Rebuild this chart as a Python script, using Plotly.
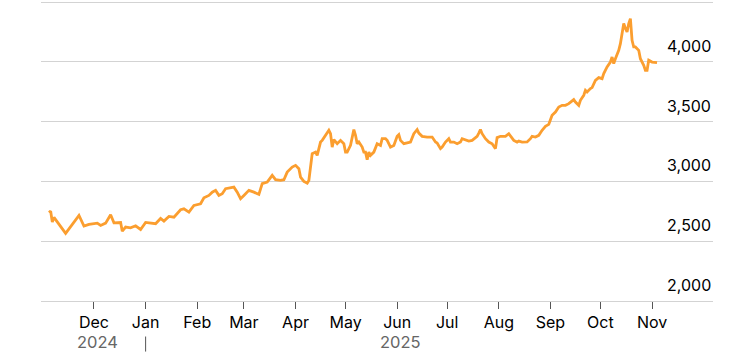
import plotly.graph_objects as go

dates = [
    "2024-11-04", "2024-11-05", "2024-11-06", "2024-11-07", "2024-11-14", "2024-11-22",
    "2024-11-25", "2024-11-28", "2024-12-03", "2024-12-05", "2024-12-08", "2024-12-11",
    "2024-12-13", "2024-12-17", "2024-12-18", "2024-12-20", "2024-12-23", "2024-12-26",
    "2024-12-29", "2025-01-01", "2025-01-07", "2025-01-10", "2025-01-12", "2025-01-15",
    "2025-01-18", "2025-01-22", "2025-01-24", "2025-01-27", "2025-01-30", "2025-02-03",
    "2025-02-05", "2025-02-08", "2025-02-10", "2025-02-12", "2025-02-14", "2025-02-16",
    "2025-02-18", "2025-02-21", "2025-02-23", "2025-02-25", "2025-02-27", "2025-03-01",
    "2025-03-04", "2025-03-07", "2025-03-10", "2025-03-12", "2025-03-15", "2025-03-18",
    "2025-03-20", "2025-03-23", "2025-03-25", "2025-03-27", "2025-03-30", "2025-04-01",
    "2025-04-03", "2025-04-04", "2025-04-06", "2025-04-08", "2025-04-09", "2025-04-11",
    "2025-04-13", "2025-04-14", "2025-04-16", "2025-04-17", "2025-04-19", "2025-04-21",
    "2025-04-22", "2025-04-23", "2025-04-24", "2025-04-26", "2025-04-28", "2025-04-30",
    "2025-05-01", "2025-05-02", "2025-05-04", "2025-05-06", "2025-05-07", "2025-05-08",
    "2025-05-09", "2025-05-11", "2025-05-12", "2025-05-13", "2025-05-14", "2025-05-15",
    "2025-05-16", "2025-05-18", "2025-05-20", "2025-05-22", "2025-05-23", "2025-05-25",
    "2025-05-26", "2025-05-28", "2025-05-30", "2025-06-01", "2025-06-02", "2025-06-03",
    "2025-06-05", "2025-06-07", "2025-06-09", "2025-06-11", "2025-06-13", "2025-06-14",
    "2025-06-16", "2025-06-19", "2025-06-22", "2025-06-24", "2025-06-25", "2025-06-27",
    "2025-06-28", "2025-06-30", "2025-07-02", "2025-07-03", "2025-07-05", "2025-07-07",
    "2025-07-09", "2025-07-10", "2025-07-12", "2025-07-14", "2025-07-16", "2025-07-19",
    "2025-07-20", "2025-07-21", "2025-07-22", "2025-07-24", "2025-07-26", "2025-07-28",
    "2025-07-30", "2025-07-31", "2025-08-02", "2025-08-05", "2025-08-07", "2025-08-08",
    "2025-08-10", "2025-08-12", "2025-08-13", "2025-08-15", "2025-08-18", "2025-08-20",
    "2025-08-21", "2025-08-23", "2025-08-25", "2025-08-27", "2025-08-29", "2025-08-31",
    "2025-09-01", "2025-09-02", "2025-09-04", "2025-09-06", "2025-09-08", "2025-09-10",
    "2025-09-12", "2025-09-14", "2025-09-15", "2025-09-16", "2025-09-18", "2025-09-19",
    "2025-09-21", "2025-09-22", "2025-09-23", "2025-09-25", "2025-09-26", "2025-09-28",
    "2025-09-30", "2025-10-02", "2025-10-03", "2025-10-05", "2025-10-07", "2025-10-08",
    "2025-10-09", "2025-10-10", "2025-10-12", "2025-10-13", "2025-10-14", "2025-10-15",
    "2025-10-16", "2025-10-17", "2025-10-18", "2025-10-19", "2025-10-20", "2025-10-21",
    "2025-10-22", "2025-10-24", "2025-10-25", "2025-10-27", "2025-10-28", "2025-10-29",
    "2025-10-30", "2025-11-01", "2025-11-04",
]

prices = [
    2739, 2751, 2660, 2699, 2565, 2715,
    2626, 2640, 2651, 2632, 2651, 2721,
    2654, 2656, 2584, 2618, 2612, 2629,
    2598, 2657, 2646, 2690, 2668, 2707,
    2701, 2763, 2771, 2743, 2799, 2813,
    2863, 2883, 2910, 2925, 2883, 2897,
    2939, 2944, 2952, 2910, 2855, 2883,
    2925, 2910, 2891, 2981, 2994, 3050,
    3014, 3008, 3014, 3078, 3120, 3134,
    3106, 3036, 3000, 2986, 3008, 3232,
    3245, 3218, 3329, 3343, 3385, 3427,
    3399, 3287, 3349, 3315, 3343, 3315,
    3245, 3245, 3301, 3433, 3385, 3315,
    3329, 3287, 3245, 3245, 3181, 3245,
    3218, 3245, 3315, 3301, 3357, 3357,
    3343, 3287, 3301, 3377, 3391, 3343,
    3315, 3321, 3329, 3399, 3433, 3404,
    3377, 3371, 3371, 3329, 3321, 3274,
    3287, 3329, 3357, 3329, 3329, 3315,
    3329, 3357, 3349, 3337, 3343, 3377,
    3404, 3433, 3399, 3357, 3329, 3315,
    3274, 3366, 3377, 3377, 3399, 3377,
    3343, 3329, 3337, 3329, 3330, 3357,
    3377, 3371, 3385, 3427, 3460, 3477,
    3524, 3552, 3580, 3622, 3636, 3636,
    3650, 3678, 3684, 3664, 3636, 3678,
    3720, 3762, 3748, 3776, 3784, 3845,
    3868, 3859, 3901, 3957, 3998, 4040,
    3985, 4026, 4096, 4152, 4222, 4320,
    4278, 4250, 4320, 4361, 4180, 4124,
    4124, 4096, 4026, 3971, 3929, 3929,
    4013, 3998, 3993,
]

month_ticks = ["2024-12-01", "2025-01-01", "2025-02-01", "2025-03-01", "2025-04-01",
               "2025-05-01", "2025-06-01", "2025-07-01", "2025-08-01", "2025-09-01",
               "2025-10-01", "2025-11-01"]
month_labels = ["Dec", "Jan", "Feb", "Mar", "Apr", "May", "Jun", "Jul", "Aug", "Sep", "Oct", "Nov"]

y_ticks = [2000, 2500, 3000, 3500, 4000, 4500]
y_labels = ["2,000", "2,500", "3,000", "3,500", "4,000", ""]

year_labels = ["2024", "2025"]
year_positions = ["2024-12-03", "2025-06-03"]
year_divider = "2025-01-01"

FONT = "Inter, Liberation Sans, Arial, sans-serif"

fig = go.Figure()
fig.add_trace(go.Scatter(
    x=dates, y=prices, mode="lines",
    line=dict(color="#FB9E2F", width=2.8),
    hoverinfo="skip", showlegend=False,
))

annotations = []
for v, t in zip(y_ticks, y_labels):
    if not t:
        continue
    annotations.append(dict(
        x=1, xref="paper", y=v, yref="y", text=t, showarrow=False,
        xanchor="right", yanchor="middle", yshift=16,
        font=dict(family=FONT, size=16, color="#000000"),
    ))
for t, p in zip(year_labels, year_positions):
    annotations.append(dict(
        x=p, xref="x", y=0, yref="paper", text=t, showarrow=False,
        xanchor="center", yanchor="middle", yshift=-41,
        font=dict(family=FONT, size=16.5, color="#666666"),
    ))

shapes = [dict(
    type="line", xref="x", yref="paper",
    x0=year_divider, x1=year_divider, y0=-0.118, y1=-0.168,
    line=dict(color="#555555", width=1),
)]

fig.update_layout(
    width=753, height=363,
    margin=dict(l=41, r=40, t=0, b=62),
    paper_bgcolor="white", plot_bgcolor="white",
    xaxis=dict(
        type="date",
        range=["2024-10-30 05:00", "2025-12-07 14:00"],
        tickvals=month_ticks, ticktext=month_labels,
        ticks="outside", ticklen=7, tickwidth=1, tickcolor="#555555",
        showgrid=False, zeroline=False,
        showline=True, linecolor="#d3d3d3", linewidth=1,
        tickfont=dict(family=FONT, size=16, color="#000000"),
        fixedrange=True,
    ),
    yaxis=dict(
        range=[2000, 4516.7],
        tickvals=y_ticks, showticklabels=False,
        showgrid=True, gridcolor="#d3d3d3", gridwidth=1,
        zeroline=False, showline=False, ticks="",
        fixedrange=True,
    ),
    annotations=annotations,
    shapes=shapes,
)

fig.write_html(
    "out.html",
    config={"displayModeBar": False, "staticPlot": True},
    post_script="document.body.style.margin='0';",
)
